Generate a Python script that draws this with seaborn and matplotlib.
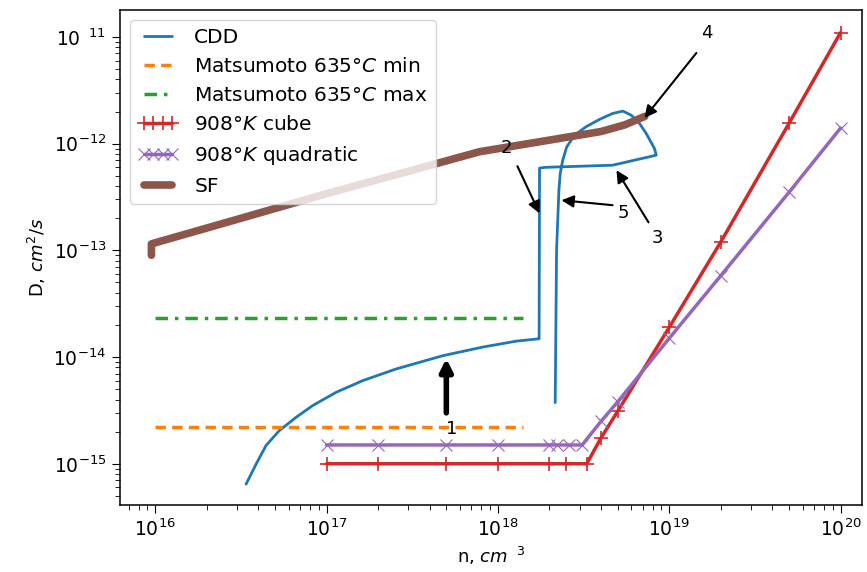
import matplotlib
matplotlib.use('Agg')
import matplotlib.pyplot as plt
import seaborn as sns

# CDD curve (n in cm^-3, D in cm^2/s)
cdd_n = [3.39e16, 3.88e16, 4.43e16, 5.29e16, 6.63e16, 8.3e16, 1.136e17, 1.625e17, 2.55e17,
         4.77e17, 8.15e17, 1.28e18, 1.71e18,
         1.74e18, 1.75e18, 1.89e18, 4.67e18, 8.4e18, 8.2e18, 7.33e18, 6.7e18, 6.0e18,
         5.36e18, 4.68e18, 3.92e18, 3.27e18, 2.8e18, 2.52e18, 2.39e18, 2.31e18, 2.27e18,
         2.2e18, 2.16e18]
cdd_D = [6.44e-16, 9.93e-16, 1.48e-15, 2.04e-15, 2.72e-15, 3.51e-15, 4.67e-15, 6.01e-15, 7.74e-15,
         1.03e-14, 1.24e-14, 1.41e-14, 1.48e-14,
         1.48e-14, 5.9e-13, 6.0e-13, 6.28e-13, 7.8e-13, 9.0e-13, 1.25e-12, 1.55e-12, 1.85e-12,
         2.02e-12, 1.92e-12, 1.69e-12, 1.44e-12, 1.2e-12, 9.3e-13, 7.0e-13, 5.25e-13, 3.66e-13,
         1.0e-13, 3.74e-15]

# Matsumoto 635C
mats_n = [1e16, 1.4e18]
mats_min = [2.2e-15, 2.2e-15]
mats_max = [2.3e-14, 2.3e-14]

# 908K cube
cube_n = [1e17, 2e17, 5e17, 1e18, 2e18, 2.5e18, 3.3e18, 4e18, 5e18, 1e19, 2e19, 5e19, 1e20]
cube_D = [1e-15, 1e-15, 1e-15, 1e-15, 1e-15, 1e-15, 1e-15,
          1.75e-15, 3.1e-15, 1.9e-14, 1.2e-13, 1.55e-12, 1.1e-11]

# 908K quadratic
quad_n = [1e17, 2e17, 5e17, 1e18, 2e18, 2.2e18, 2.6e18, 3.1e18, 4e18, 5e18, 1e19, 2e19, 5e19, 1e20]
quad_D = [1.5e-15, 1.5e-15, 1.5e-15, 1.5e-15, 1.5e-15, 1.5e-15, 1.5e-15, 1.5e-15,
          2.5e-15, 3.8e-15, 1.5e-14, 5.8e-14, 3.5e-13, 1.4e-12]

# SF
sf_n = [9.5e15, 9.5e15, 3e16, 1e17, 3e17, 7.8e17, 2e18, 4e18, 5.5e18, 7.2e18]
sf_D = [9e-14, 1.15e-13, 1.95e-13, 3.4e-13, 5.5e-13, 8.4e-13, 1.08e-12, 1.3e-12, 1.5e-12, 1.8e-12]

ytick_vals = [1e-15, 1e-14, 1e-13, 1e-12, 1e-11]
ytick_labels = [r'$10^{-15}$', r'$10^{-14}$', r'$10^{-13}$', r'$10^{-12}$', r'$10^{\ \ 11}$']

sns.set_style('ticks')
plt.rcParams['font.family'] = ['DejaVu Sans']
plt.rcParams.update({
    'xtick.major.size': 6, 'ytick.major.size': 6,
    'xtick.minor.size': 3.5, 'ytick.minor.size': 3.5,
    'axes.edgecolor': 'black', 'xtick.color': 'black', 'ytick.color': 'black',
    'text.color': 'black', 'axes.labelcolor': 'black', 'axes.linewidth': 1.1,
})

fig, ax = plt.subplots(figsize=(8.67, 5.72), dpi=100)
fig.subplots_adjust(left=0.138, right=0.994, bottom=0.117, top=0.983)
ax.set_xscale('log')
ax.set_yscale('log')

pal = sns.color_palette('tab10')

sns.lineplot(x=cdd_n, y=cdd_D, sort=False, estimator=None, color=pal[0], lw=2,
             label='CDD', ax=ax)
sns.lineplot(x=mats_n, y=mats_min, sort=False, estimator=None, color=pal[1], lw=2.5,
             linestyle=(0, (3, 1.8)), label='Matsumoto 635°$C$ min', ax=ax)
sns.lineplot(x=mats_n, y=mats_max, sort=False, estimator=None, color=pal[2], lw=2.5,
             linestyle=(0, (3.6, 2, 1, 2)), label='Matsumoto 635°$C$ max', ax=ax)
sns.lineplot(x=cube_n, y=cube_D, sort=False, estimator=None, color=pal[3], lw=2.5,
             marker='+', markersize=10, markeredgecolor=pal[3], markeredgewidth=1.2,
             label='908°$K$ cube', ax=ax)
sns.lineplot(x=quad_n, y=quad_D, sort=False, estimator=None, color=pal[4], lw=2.5,
             marker='x', markersize=9, markeredgecolor=pal[4], markeredgewidth=0.8,
             label='908°$K$ quadratic', ax=ax)
sns.lineplot(x=sf_n, y=sf_D, sort=False, estimator=None, color=pal[5], lw=5.5,
             label='SF', ax=ax)

ax.set_xlim(6.2e15, 1.33e20)
ax.set_ylim(4.1e-16, 1.8e-11)
ax.set_yticks(ytick_vals)
ax.set_yticklabels(ytick_labels)
ax.tick_params(axis='both', which='major', labelsize=13.5)

ax.set_xlabel(r'n, $cm^{\ \ 3}$', fontsize=13)
ax.set_ylabel(r'D, $cm^2/s$', fontsize=13)

# arrows with numbers
arrows = [
    ('1', (5.36e17, 2.1e-15), (5.0e17, 3.0e-15), (5.0e17, 9.7e-15), 4),
    ('2', (1.12e18, 9.1e-13), (1.3e18, 6.15e-13), (1.75e18, 2.22e-13), 1.5),
    ('3', (8.53e18, 1.3e-13), (7.57e18, 1.83e-13), (4.92e18, 5.64e-13), 1.5),
    ('4', (1.65e19, 1.09e-11), (1.44e19, 7.08e-12), (7.16e18, 1.74e-12), 1.5),
    ('5', (5.4e18, 2.22e-13), (4.67e18, 2.65e-13), (2.35e18, 2.95e-13), 1.5),
]
for txt, tpos, tail, head, w in arrows:
    ax.annotate('', xy=head, xytext=tail,
                arrowprops=dict(arrowstyle='-|>', color='black', lw=w,
                                mutation_scale=18, shrinkA=0, shrinkB=0))
    ax.text(tpos[0], tpos[1], txt, ha='center', va='center', fontsize=13)

ax.legend(loc='upper left', fontsize=14.5, numpoints=4, framealpha=0.8, fancybox=True)

fig.savefig('out.png', dpi=100)
